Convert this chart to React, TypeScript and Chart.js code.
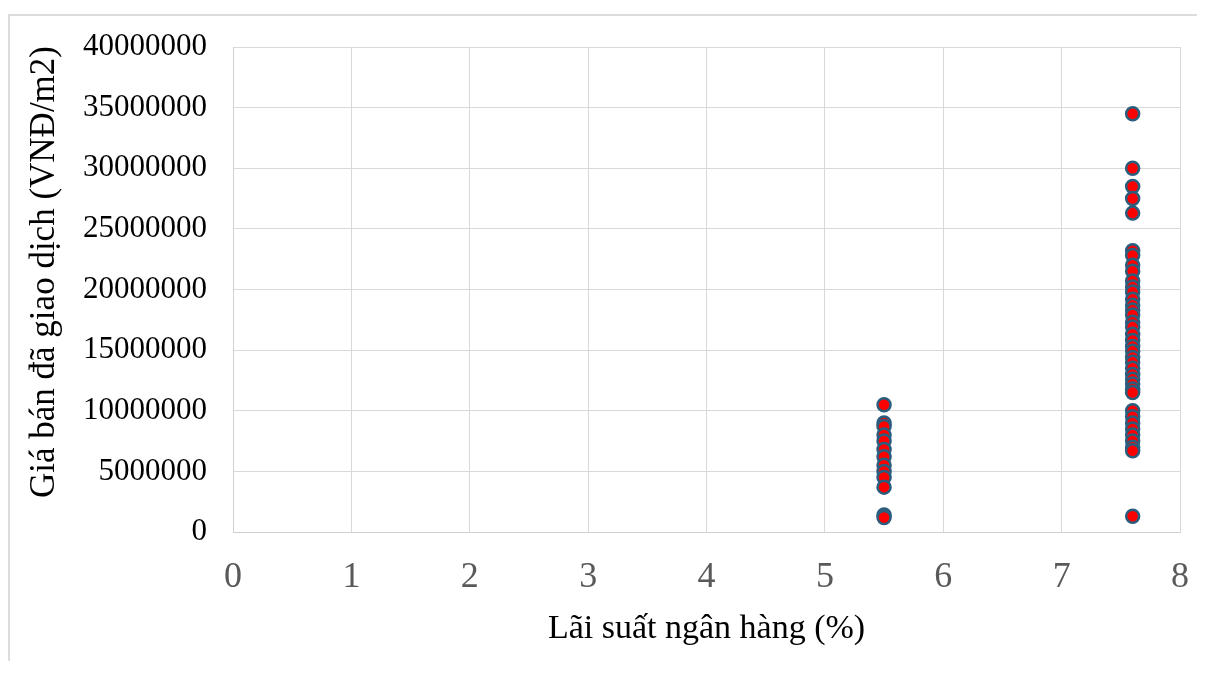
import React, { useEffect, useRef } from "react";
import { Chart, registerables } from "chart.js";

Chart.register(...registerables);

// Bank interest rate (%) for each recorded transaction group
const rateLow = 5.5;
const rateHigh = 7.6;

// Sold prices (VND/m2) at the 5.5% rate
const pricesAtLow = [
  10500000, 9000000, 8700000, 8000000, 7500000, 6800000, 6200000, 5500000,
  5000000, 4500000, 3700000, 1400000, 1200000,
];

// Sold prices (VND/m2) at the 7.6% rate
const pricesAtHigh = [
  34500000, 30000000, 28500000, 27500000, 26300000, 23200000, 22800000,
  22000000, 21500000, 20700000, 20200000, 19800000, 19200000, 18700000,
  18300000, 17900000, 17300000, 16900000, 16300000, 15800000, 15300000,
  14900000, 14400000, 14000000, 13500000, 13000000, 12600000, 12200000,
  11800000, 11500000, 10000000, 9500000, 9000000, 8500000, 8000000, 7500000,
  7000000, 6700000, 1300000,
];

const xTitle = "Lãi suất ngân hàng (%)";
// leading spaces nudge the rotated, centred title a little towards the top
const yTitle = "    Giá bán đã giao dịch (VNĐ/m2)";

const CANVAS_W = 1187;
const CANVAS_H = 645;
const SERIF = "'Liberation Serif', 'DejaVu Serif', serif";

export default function App() {
  const ref = useRef<HTMLCanvasElement | null>(null);

  useEffect(() => {
    if (!ref.current) return;
    const points = [
      ...pricesAtLow.map((y) => ({ x: rateLow, y })),
      ...pricesAtHigh.map((y) => ({ x: rateHigh, y })),
    ];
    const chart = new Chart(ref.current, {
      type: "scatter",
      data: {
        datasets: [
          {
            data: points,
            backgroundColor: "#ff0000",
            borderColor: "#2b5d7d",
            borderWidth: 2.5,
            pointRadius: 6.5,
            pointHoverRadius: 6.5,
          },
        ],
      },
      options: {
        responsive: false,
        animation: false,
        layout: { padding: { left: 0, top: 31, right: 17, bottom: 0 } },
        plugins: {
          legend: { display: false },
          tooltip: { enabled: false },
        },
        scales: {
          x: {
            type: "linear",
            min: 0,
            max: 8,
            afterFit: (scale: any) => {
              scale.height = 129;
              scale.paddingLeft = 0;
              scale.paddingRight = 0;
            },
            grid: { color: "#d9d9d9", drawTicks: false, lineWidth: 1 },
            border: { color: "#d0d0d0", width: 1 },
            ticks: {
              stepSize: 1,
              padding: 24,
              color: "#595959",
              font: { family: SERIF, size: 36 },
            },
            title: {
              display: true,
              text: xTitle,
              color: "#000000",
              padding: { top: 0, bottom: 12 },
              font: { family: SERIF, size: 34 },
            },
          },
          y: {
            type: "linear",
            min: 0,
            max: 40000000,
            afterFit: (scale: any) => {
              scale.width = 223;
              scale.paddingTop = 0;
              scale.paddingBottom = 0;
            },
            grid: { color: "#d9d9d9", drawTicks: false, lineWidth: 1 },
            border: { color: "#d0d0d0", width: 1 },
            ticks: {
              stepSize: 5000000,
              padding: 26,
              color: "#000000",
              callback: (v: any) => String(v),
              font: { family: SERIF, size: 31 },
            },
            title: {
              display: true,
              text: yTitle,
              color: "#000000",
              padding: { top: 14, bottom: 0 },
              font: { family: SERIF, size: 35 },
            },
          },
        },
      },
    });
    return () => chart.destroy();
  }, []);

  return (
    <div
      style={{
        marginTop: 6,
        marginRight: -8,
        borderTop: "2px solid #dcdcdc",
        borderLeft: "2px solid #dcdcdc",
        background: "#ffffff",
      }}
    >
      <canvas
        ref={ref}
        width={CANVAS_W}
        height={CANVAS_H}
        style={{ display: "block", width: CANVAS_W, height: CANVAS_H }}
      />
    </div>
  );
}
